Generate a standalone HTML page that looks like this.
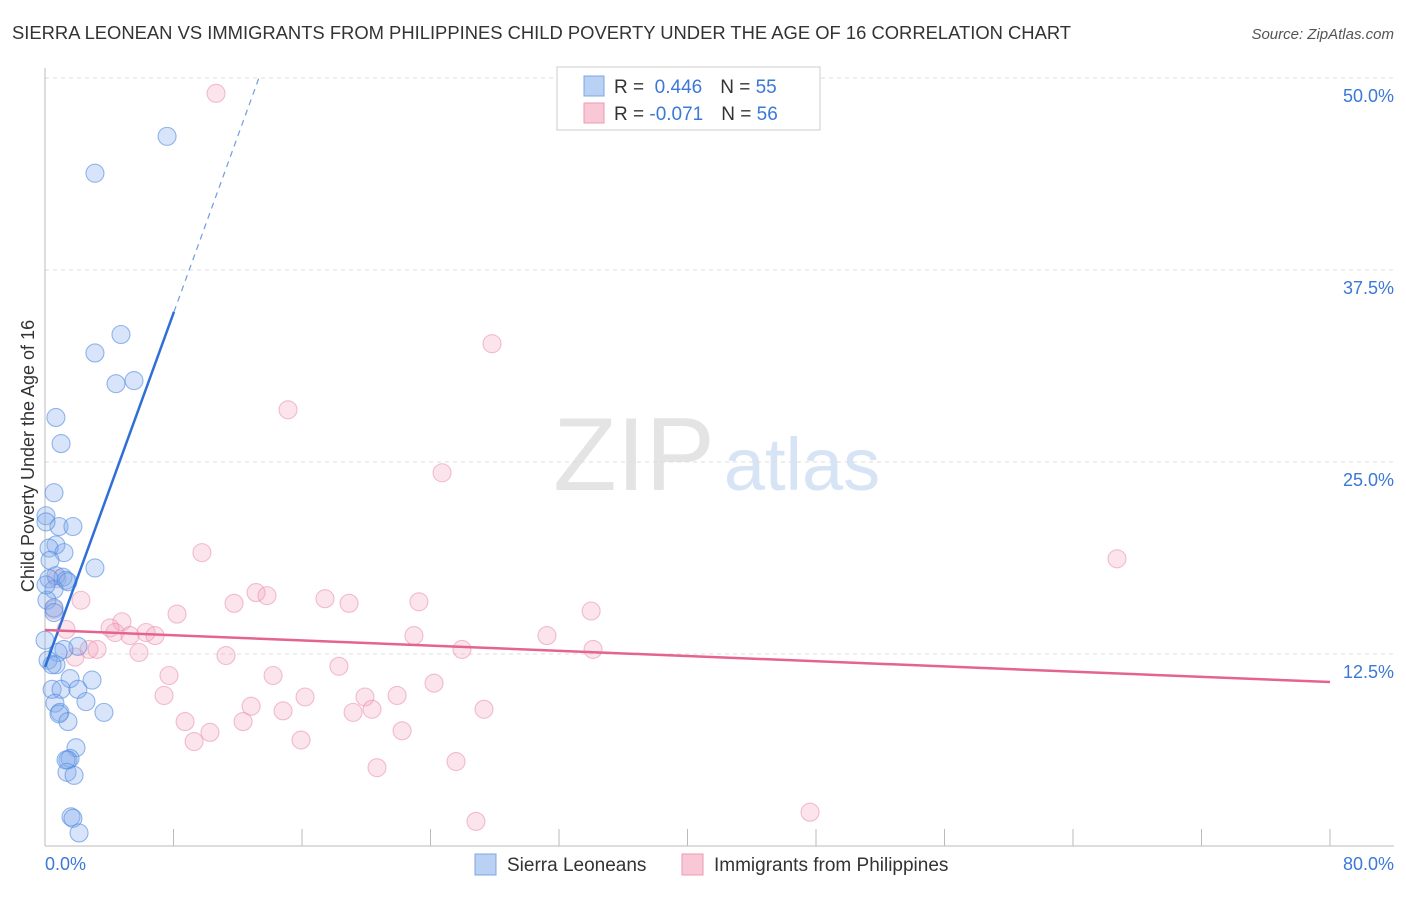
<!DOCTYPE html>
<html><head><meta charset="utf-8"><style>
body{margin:0;background:#fff;font-family:"Liberation Sans",sans-serif;}
svg text{font-family:"Liberation Sans",sans-serif;}
</style></head><body>
<svg id="chart" width="1406" height="892" viewBox="0 0 1406 892">
<text x="12" y="39" font-size="18.4" fill="#333">SIERRA LEONEAN VS IMMIGRANTS FROM PHILIPPINES CHILD POVERTY UNDER THE AGE OF 16 CORRELATION CHART</text>
<text x="1394" y="39" font-size="15" fill="#555" text-anchor="end" font-style="italic">Source: ZipAtlas.com</text>
<text x="634" y="490" font-size="104" fill="#e4e4e4" font-family="Liberation Serif" text-anchor="middle">ZIP</text>
<text x="802" y="490" font-size="74" fill="#d6e4f5" text-anchor="middle">atlas</text>
<g id="grid"></g>
<g id="axes"></g>
<g id="pts"></g>
<text transform="translate(34,456) rotate(-90)" font-size="18" fill="#333" text-anchor="middle">Child Poverty Under the Age of 16</text>
<text x="45" y="870" font-size="18" fill="#3b78d8">0.0%</text>
<text x="1394" y="870" font-size="18" fill="#3b78d8" text-anchor="end">80.0%</text>
<g>
<rect x="557" y="67" width="263" height="63" fill="#fff" stroke="#ccc"/>
<rect x="584" y="76" width="20" height="20" fill="#b9d2f3" stroke="#7da7e3"/>
<rect x="584" y="103" width="20" height="20" fill="#f9c8d6" stroke="#ec9ab3"/>
<text x="614" y="93" font-size="19" fill="#333">R = <tspan fill="#3b78d8">&#160;0.446</tspan><tspan dx="18">N = </tspan><tspan fill="#3b78d8">55</tspan></text>
<text x="614" y="120" font-size="19" fill="#333">R = <tspan fill="#3b78d8">-0.071</tspan><tspan dx="18">N = </tspan><tspan fill="#3b78d8">56</tspan></text>
</g>
<g>
<rect x="475" y="854" width="21" height="21" fill="#b9d2f3" stroke="#7da7e3"/>
<text x="507" y="871" font-size="19" fill="#333">Sierra Leoneans</text>
<rect x="682" y="854" width="21" height="21" fill="#f9c8d6" stroke="#ec9ab3"/>
<text x="714" y="871" font-size="19" fill="#333">Immigrants from Philippines</text>
</g>
</svg>
<script>
const yTicks=[12.5,25,37.5,50];
const yTickLabels=["12.5%","25.0%","37.5%","50.0%"];
const xTicks=[0,8,16,24,32,40,48,56,64,72,80];
const blueX=[7.60,3.11,4.73,3.11,5.54,4.42,0.68,1.00,0.56,0.06,0.87,1.74,0.06,0.68,0.25,1.18,0.31,3.11,0.68,1.12,0.25,1.31,1.43,0.56,0.12,0.56,0.56,2.05,1.18,0.81,0.19,0.68,0.44,1.56,2.93,0.44,1.00,2.05,2.55,0.62,0.93,0.87,3.67,1.43,1.93,1.56,1.43,1.37,1.81,1.62,1.74,2.12,0,0.06,1.31];
const blueY=[46.2,43.8,33.3,32.1,30.3,30.1,27.9,26.2,23.0,21.5,20.8,20.8,21.1,19.6,19.4,19.1,18.6,18.1,17.6,17.5,17.4,17.3,17.2,16.7,16.0,15.5,15.2,13.0,12.8,12.6,12.1,11.8,11.8,10.9,10.8,10.2,10.2,10.2,9.4,9.3,8.7,8.6,8.7,8.1,6.4,5.7,5.6,4.8,4.6,1.9,1.8,0.85,13.4,17.0,5.6];
const pinkX=[10.65,27.83,15.13,24.72,66.74,9.77,13.14,13.82,11.77,17.43,18.93,23.28,34.0,8.22,2.24,0.75,0.56,4.79,4.05,4.36,6.29,6.85,5.29,1.31,22.97,31.25,2.74,3.24,5.85,1.87,25.96,34.12,11.27,7.72,14.20,18.30,24.22,7.41,16.19,19.92,21.92,12.83,14.82,19.18,20.36,27.33,8.72,12.33,10.27,9.28,15.94,22.23,25.59,20.67,47.63,26.83];
const pinkY=[49.0,32.7,28.4,24.3,18.7,19.1,16.5,16.3,15.8,16.1,15.8,15.9,15.3,15.1,16.0,17.4,15.4,14.6,14.2,13.9,13.9,13.7,13.7,14.1,13.7,13.7,12.8,12.8,12.6,12.3,12.8,12.8,12.4,11.1,11.1,11.7,10.6,9.8,9.7,9.7,9.8,9.1,8.8,8.7,8.9,8.9,8.1,8.1,7.4,6.8,6.9,7.5,5.5,5.1,2.2,1.6];
const blueTrend=[11.65,2.88]; // intercept, slope
const blueTrendRange=[0,8.03,13.3];
const pinkTrend=[14.06,-0.0423];
const X0=45,X1=1330,Y0=846,PX=(X1-X0)/80,PY=192/12.5;
const sx=v=>X0+v*PX, sy=v=>Y0-v*PY;
const NS="http://www.w3.org/2000/svg";
function mk(tag,attrs,parent){const e=document.createElementNS(NS,tag);for(const k in attrs)e.setAttribute(k,attrs[k]);parent.appendChild(e);return e;}
const grid=document.getElementById('grid'),axes=document.getElementById('axes'),pts=document.getElementById('pts');
yTicks.forEach((t,i)=>{
 const l=mk('line',{x1:X0,x2:1394,y1:sy(t),y2:sy(t),stroke:'#ddd','stroke-dasharray':'4,4'},grid);
 
 
 const tx=mk('text',{x:1394,y:sy(t)+24,'font-size':18,fill:'#3b78d8','text-anchor':'end'},grid);
 tx.textContent=yTickLabels[i];
 
 
});
const ya=mk('line',{x1:X0,x2:X0,y1:68,y2:Y0,stroke:'#bbb'},axes);


const xa=mk('line',{x1:X0,x2:1394,y1:Y0,y2:Y0,stroke:'#bbb'},axes);


xTicks.forEach(t=>{
 const l=mk('line',{x1:sx(t),x2:sx(t),y1:Y0-17,y2:Y0,stroke:'#bbb'},axes);
 
 
});
pinkX.forEach((x,i)=>{
 const c=mk('circle',{cx:sx(x),cy:sy(pinkY[i]),r:9,fill:'rgba(244,165,192,0.3)',stroke:'rgba(232,140,170,0.55)','stroke-width':1.1},pts);
 
 
});
blueX.forEach((x,i)=>{
 const c=mk('circle',{cx:sx(x),cy:sy(blueY[i]),r:9,fill:'rgba(130,172,235,0.32)',stroke:'rgba(80,138,222,0.6)','stroke-width':1.1},pts);
 
 
});
const bf=v=>blueTrend[0]+blueTrend[1]*v;
const [b0,b1,b2]=blueTrendRange;
const bt=mk('line',{x1:sx(b0),y1:sy(bf(b0)),x2:sx(b1),y2:sy(bf(b1)),stroke:'#2f6fd6','stroke-width':2.5},pts);


const bd=mk('line',{x1:sx(b1),y1:sy(bf(b1)),x2:sx(b2),y2:sy(bf(b2)),stroke:'#6d9de0','stroke-width':1.2,'stroke-dasharray':'6,5'},pts);


const pt=mk('line',{x1:sx(0),y1:sy(pinkTrend[0]),x2:sx(80),y2:sy(pinkTrend[0]+pinkTrend[1]*80),stroke:'#e5638f','stroke-width':2.5},pts);


</script>
</body></html>
